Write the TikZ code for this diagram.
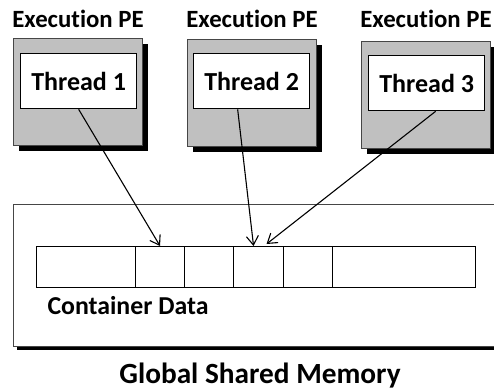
\documentclass[tikz,border=0pt]{standalone}
\usepackage{fontspec}
\setmainfont{Carlito}[Ligatures={NoCommon}]
\usetikzlibrary{arrows.meta,shadows,calc}
\definecolor{peGray}{RGB}{192,192,192}
\definecolor{edgeGray}{RGB}{70,70,70}
\begin{document}
\begin{tikzpicture}[x=1pt,y=-1pt,
  font=\fontsize{24.8}{28}\selectfont\bfseries,
  pebox/.style={draw=edgeGray, line width=1pt, fill=peGray, inner sep=0pt,
    minimum width=129pt, minimum height=107pt, anchor=north west,
    drop shadow={shadow xshift=5pt, shadow yshift=-5pt, fill=black, opacity=1}},
  thread/.style={draw=black, line width=1.3pt, fill=white, inner sep=0pt,
    minimum width=116pt, minimum height=55pt, anchor=north west,
    font=\fontsize{26}{30}\selectfont\bfseries},
  pelabel/.style={anchor=base},
  cell/.style={draw=black, line width=1.1pt, fill=white, inner sep=0pt,
    minimum height=41pt, anchor=north west},
  link/.style={line width=1.1pt, -{Straight Barb[length=9pt,width=12pt,line width=1.1pt]}}
]
\useasboundingbox (0,0) rectangle (494,391);
\begin{scope}
\clip (0,0) rectangle (494,391);

% processing elements with their threads
\node[pebox] (pe1) at (13,38) {};
\node[pebox] (pe2) at (187,39) {};
\node[pebox] (pe3) at (361,41) {};
\node[thread] (t1) at (20,53) {Thread 1};
\node[thread] (t2) at (193,53) {Thread 2};
\node[thread] (t3) at (368,55) {Thread 3};
\node[pelabel] (l1) at (78,27) {Execution PE};
\node[pelabel] (l2) at (252,27) {Execution PE};
\node[pelabel] (l3) at (426,27) {Execution PE};

% shared memory region
\fill[black] (17,208) rectangle (510,350);
\node[draw=edgeGray, line width=1.1pt, fill=white, inner sep=0pt,
  minimum width=497pt, minimum height=142pt, anchor=north west] (mem) at (13,204) {};

% container cells
\node[cell, minimum width=99pt] (c1) at (36,246) {};
\node[cell, minimum width=49pt] (c2) at (135,246) {};
\node[cell, minimum width=49pt] (c3) at (184,246) {};
\node[cell, minimum width=50pt] (c4) at (233,246) {};
\node[cell, minimum width=49pt] (c5) at (283,246) {};
\node[cell, minimum width=143pt] (c6) at (332,246) {};

\node[anchor=base west, font=\fontsize{25.8}{30}\selectfont\bfseries] (cd) at (44,314) {Container Data};
\node[anchor=base, font=\fontsize{29.3}{34}\selectfont\bfseries] (gsm) at (260,383) {Global Shared Memory};

% access arrows
\coordinate (s2) at ($(t2.south)+(-14,0)$);
\coordinate (s3) at ($(t3.south)+(9,0)$);
\coordinate (e2) at ($(c4.north)+(-5,0)$);
\coordinate (e3) at ($(c4.north)+(8,-2)$);
\draw[link] (t1.south) -- (c2.north);
\draw[link] (s2) -- (e2);
\draw[link] (s3) -- (e3);
\end{scope}
\end{tikzpicture}
\end{document}
